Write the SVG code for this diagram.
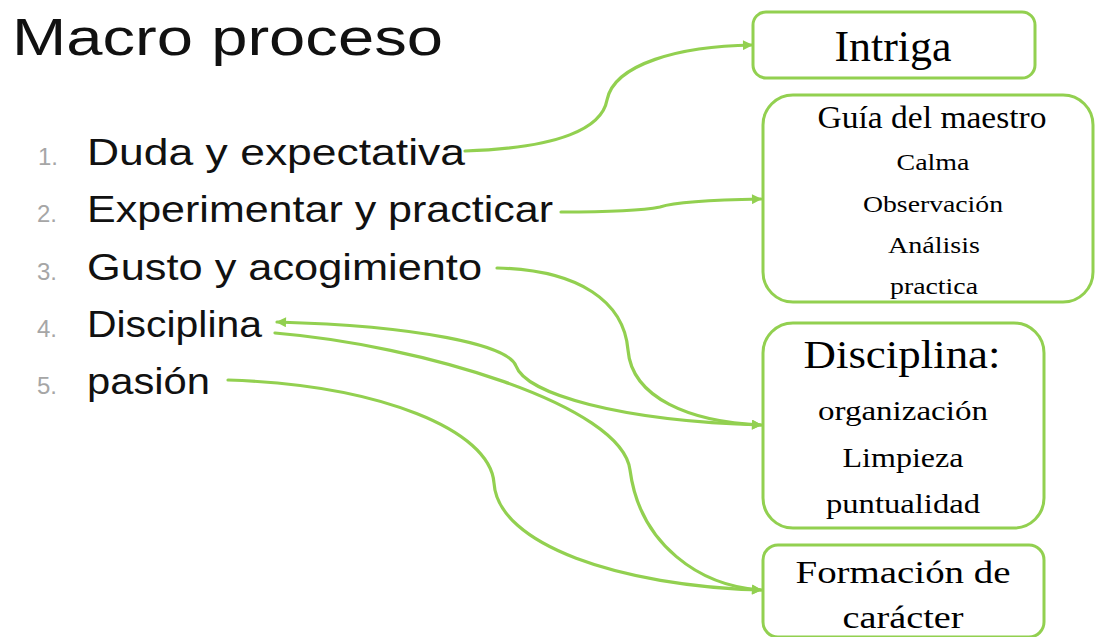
<svg xmlns="http://www.w3.org/2000/svg" width="1095" height="637" viewBox="0 0 1095 637">
<defs>
<style>
.box{fill:#ffffff;stroke:#92D050;stroke-width:3}
.con{fill:none;stroke:#92D050;stroke-width:3.2;stroke-linecap:round}
.sans{font-family:"Liberation Sans","DejaVu Sans",sans-serif;fill:#111111}
.num{font-family:"Liberation Sans","DejaVu Sans",sans-serif;fill:#a6a6a6;font-size:24px}
.ser{font-family:"Liberation Serif","DejaVu Serif",serif;fill:#000000;text-anchor:middle}
</style>
<marker id="ah" viewBox="0 0 10 10" refX="9" refY="5" markerWidth="11" markerHeight="10" markerUnits="userSpaceOnUse" orient="auto-start-reverse">
<path d="M0,0 L10,5 L0,10 z" fill="#92D050"/>
</marker>
</defs>
<rect width="1095" height="637" fill="#ffffff"/>

<g id="title">
<text class="sans" x="12" y="55" font-size="52" textLength="431" lengthAdjust="spacingAndGlyphs">Macro proceso</text>
</g>

<g id="list">
<text class="num" x="38" y="165">1.</text>
<text class="sans" x="87" y="165" font-size="37" textLength="378" lengthAdjust="spacingAndGlyphs">Duda y expectativa</text>
<text class="num" x="37" y="222">2.</text>
<text class="sans" x="87" y="222" font-size="37" textLength="466" lengthAdjust="spacingAndGlyphs">Experimentar y practicar</text>
<text class="num" x="37" y="280">3.</text>
<text class="sans" x="87" y="280" font-size="37" textLength="395" lengthAdjust="spacingAndGlyphs">Gusto y acogimiento</text>
<text class="num" x="37" y="337">4.</text>
<text class="sans" x="87" y="337" font-size="37" textLength="175" lengthAdjust="spacingAndGlyphs">Disciplina</text>
<text class="num" x="37" y="394">5.</text>
<text class="sans" x="87" y="394" font-size="37" textLength="123" lengthAdjust="spacingAndGlyphs">pasión</text>
</g>

<g id="connectors">
<path class="con" d="M465,151 C560,148 602,128 607,100 C614,64 680,46 752,45" marker-end="url(#ah)"/>
<path class="con" d="M561,212 C600,212 640,211 660,207 C672,203 700,200 761,199" marker-end="url(#ah)"/>
<path class="con" d="M497,268 C580,270 624,302 628,350 C632,398 690,422 761,425" marker-end="url(#ah)"/>
<path class="con" d="M277,322 C420,326 508,345 516,366 C526,394 620,421 761,425" marker-start="url(#ah)" marker-end="url(#ah)"/>
<path class="con" d="M275,333 C420,345 622,405 630,470 C640,545 700,586 761,590" marker-end="url(#ah)"/>
<path class="con" d="M228,380 C380,385 490,430 494,483 C498,545 620,586 761,590" marker-end="url(#ah)"/>
</g>

<g id="node-intriga">
<rect class="box" x="753" y="12" width="282" height="66" rx="13"/>
<text class="ser" x="893" y="61" font-size="44" textLength="117" lengthAdjust="spacingAndGlyphs">Intriga</text>
</g>

<g id="node-guia">
<rect class="box" x="763" y="95" width="330" height="207" rx="30"/>
<text class="ser" x="932" y="128" font-size="31" textLength="229" lengthAdjust="spacingAndGlyphs">Guía del maestro</text>
<text class="ser" x="933" y="170" font-size="24" textLength="73" lengthAdjust="spacingAndGlyphs">Calma</text>
<text class="ser" x="933" y="212" font-size="24" textLength="140" lengthAdjust="spacingAndGlyphs">Observación</text>
<text class="ser" x="934" y="253" font-size="24" textLength="92" lengthAdjust="spacingAndGlyphs">Análisis</text>
<text class="ser" x="934" y="294" font-size="24" textLength="88" lengthAdjust="spacingAndGlyphs">practica</text>
</g>

<g id="node-disciplina">
<rect class="box" x="763" y="323" width="281" height="205" rx="30"/>
<text class="ser" x="902" y="368" font-size="40" textLength="197" lengthAdjust="spacingAndGlyphs">Disciplina:</text>
<text class="ser" x="903" y="420" font-size="28" textLength="170" lengthAdjust="spacingAndGlyphs">organización</text>
<text class="ser" x="903" y="467" font-size="28" textLength="121" lengthAdjust="spacingAndGlyphs">Limpieza</text>
<text class="ser" x="903" y="513" font-size="28" textLength="154" lengthAdjust="spacingAndGlyphs">puntualidad</text>
</g>

<g id="node-formacion">
<rect class="box" x="763" y="545" width="281" height="92" rx="15"/>
<text class="ser" x="903" y="583" font-size="32" textLength="215" lengthAdjust="spacingAndGlyphs">Formación de</text>
<text class="ser" x="903" y="628" font-size="32" textLength="121" lengthAdjust="spacingAndGlyphs">carácter</text>
</g>
</svg>
